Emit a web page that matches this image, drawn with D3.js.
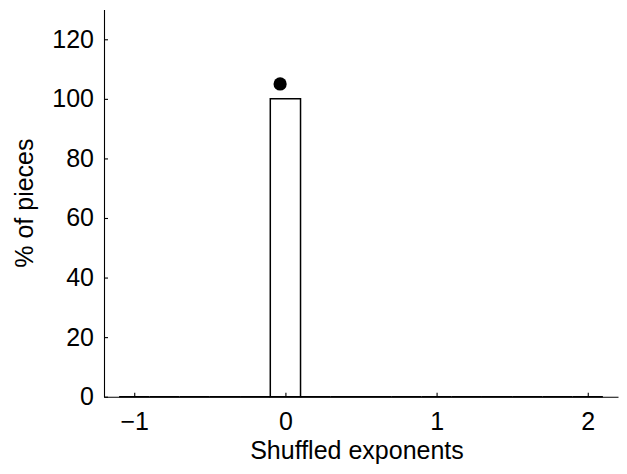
<!DOCTYPE html>
<html>
<head>
<meta charset="utf-8">
<script src="https://cdn.jsdelivr.net/npm/d3@7"></script>
<style>
  body { margin: 0; background: #fff; }
  text { font-family: "Liberation Sans", Arial, sans-serif; }
</style>
</head>
<body>
<script>
// histogram bins (centres) and their share of pieces
var binCenters = [-1.0, -0.8, -0.6, -0.4, -0.2, 0.0, 0.2, 0.4, 0.6, 0.8, 1.0, 1.2, 1.4, 1.6, 1.8, 2.0];
var binPercent = [0, 0, 0, 0, 0, 100, 0, 0, 0, 0, 0, 0, 0, 0, 0, 0];
var binWidth = 0.2;

// the dot above the bar
var dotX = [-0.035];
var dotY = [105];

var xTicks = [-1, 0, 1, 2];
var yTicks = [0, 20, 40, 60, 80, 100, 120];

var margin = {top: 9.5, right: 9, bottom: 77.3, left: 104},
  width = 627 - margin.left - margin.right,
  height = 474 - margin.top - margin.bottom;

var x = d3.scaleLinear().domain([-1.2, 2.2]).range([0, width]);
var y = d3.scaleLinear().domain([0, 130]).range([height, 0]);

var svg = d3.select("body")
  .append("svg")
  .attr("width", 627)
  .attr("height", 474)
  .append("g")
  .attr("transform", "translate(" + margin.left + "," + margin.top + ")");

// bars (drawn as paths so empty bins still show on the baseline)
svg.selectAll("path.bar")
  .data(binCenters)
  .enter().append("path")
  .attr("class", "bar")
  .attr("d", function(d, i) {
    var x0 = x(d - binWidth / 2), x1 = x(d + binWidth / 2);
    var y0 = y(0), y1 = y(binPercent[i]);
    return "M" + x0 + "," + y0 + "V" + y1 + "H" + x1 + "V" + y0 + "Z";
  })
  .style("fill", "#fff")
  .style("stroke", "#000")
  .style("stroke-width", 1.5);

// x axis
var xAxis = svg.append("g")
  .attr("transform", "translate(0," + height + ")")
  .call(d3.axisBottom(x)
    .tickValues(xTicks)
    .tickFormat(function(d) { return d < 0 ? "\u2212" + Math.abs(d) : d; })
    .tickSizeInner(-4)
    .tickSizeOuter(0)
    .tickPadding(15.5));

// y axis
var yAxis = svg.append("g")
  .call(d3.axisLeft(y)
    .tickValues(yTicks)
    .tickSizeInner(-4)
    .tickSizeOuter(0)
    .tickPadding(10));

svg.selectAll(".tick text")
  .style("font-size", "25px")
  .style("fill", "#000")
  .style("font-family", "'Liberation Sans', Arial, sans-serif");
svg.selectAll(".domain, .tick line")
  .style("stroke", "#000")
  .style("stroke-width", 1.1);

// dot
svg.selectAll("circle.dot")
  .data(dotX)
  .enter().append("circle")
  .attr("class", "dot")
  .attr("cx", function(d) { return x(d); })
  .attr("cy", function(d, i) { return y(dotY[i]); })
  .attr("r", 6.6)
  .style("fill", "#000");

// axis titles
svg.append("text")
  .attr("x", width / 2 - 4)
  .attr("y", height + 62)
  .attr("text-anchor", "middle")
  .style("font-size", "25px")
  .text("Shuffled exponents");

svg.append("text")
  .attr("transform", "translate(" + (-margin.left + 33) + "," + (height / 2) + ") rotate(-90)")
  .attr("text-anchor", "middle")
  .style("font-size", "25px")
  .text("% of pieces");
</script>
</body>
</html>
